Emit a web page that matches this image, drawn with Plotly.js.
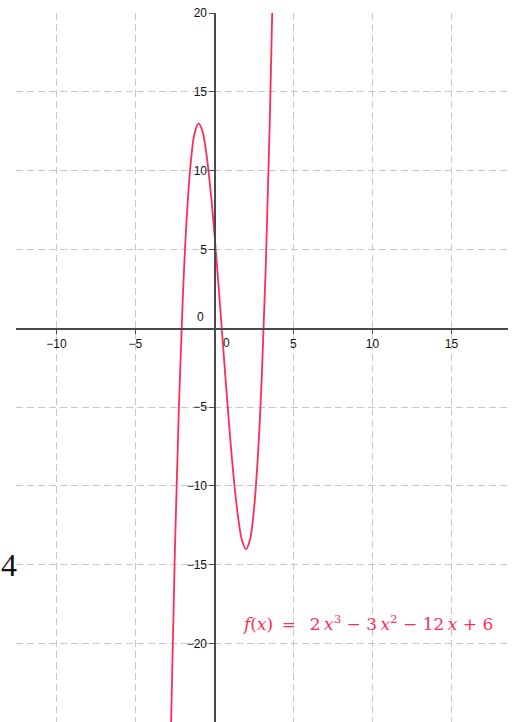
<!DOCTYPE html>
<html>
<head>
<meta charset="utf-8">
<script src="https://cdn.plot.ly/plotly-3.0.1.min.js"></script>
<style>html,body{margin:0;padding:0;background:#fff;}#chart{width:516px;height:722px;}</style>
</head>
<body>
<div id="chart"></div>
<script>
// Points
const curveX = [-2.75, -2.5, -2.25, -2, -1.75, -1.5, -1.25, -1, -0.75, -0.5, -0.25, 0, 0.25, 0.5, 0.75, 1, 1.25, 1.5, 1.75, 2, 2.25, 2.5, 2.75, 3, 3.25, 3.5, 3.75];
const curveY = [-25.3, -14.0, -4.97, 2.0, 7.09, 10.5, 12.41, 13.0, 12.47, 11.0, 8.78, 6.0, 2.84, -0.5, -3.84, -7.0, -9.78, -12.0, -13.47, -14.0, -13.41, -11.5, -8.09, -3.0, 3.97, 13.0, 24.28];
const xTickVals = [-10, -5, 5, 10, 15];
const xTickText = ['\u221210', '\u22125', '5', '10', '15'];
const yTickVals = [-20, -15, -10, -5, 5, 10, 15, 20];
const yTickText = ['\u221220', '\u221215', '\u221210', '\u22125', '5', '10', '15', '20'];
const formulaText = '<i>f</i>(<i>x</i>)\u2002=\u2002 2\u2009<i>x</i><sup>3</sup> \u2212 3\u2009<i>x</i><sup>2</sup> \u2212 12\u2009<i>x</i> + 6';
const strayLabel = '4';

const xRange = [-12.56, 18.58];
const yRange = [-24.97, 20.0];
const axisColor = '#4a4a4a';
const curveColor = '#ff2d55';

const traces = [{
  x: curveX, y: curveY, type: 'scatter', mode: 'lines',
  line: {color: curveColor, width: 1.8, shape: 'spline', smoothing: 1},
  hoverinfo: 'skip', cliponaxis: true
}];

const layout = {
  width: 516, height: 722,
  margin: {l: 16, r: 8, t: 13, b: 0},
  paper_bgcolor: '#ffffff', plot_bgcolor: '#ffffff',
  showlegend: false,
  font: {family: 'Liberation Sans, Arial, sans-serif', size: 12, color: '#111111'},
  xaxis: {
    range: xRange, autorange: false,
    tickvals: xTickVals, ticktext: xTickText,
    showgrid: true, gridcolor: '#c8c8c8', gridwidth: 1, griddash: '7px,4px',
    zeroline: false,
    showline: true, linecolor: axisColor, linewidth: 1.6,
    anchor: 'free', position: (0 - yRange[0]) / (yRange[1] - yRange[0]),
    ticks: 'outside', ticklen: 4, tickcolor: axisColor, tickwidth: 1,
    tickfont: {size: 12, color: '#111111'},
    fixedrange: true
  },
  yaxis: {
    range: yRange, autorange: false,
    tickvals: yTickVals, ticktext: yTickText,
    showgrid: true, gridcolor: '#c8c8c8', gridwidth: 1, griddash: '7px,4px',
    zeroline: false,
    showline: true, linecolor: axisColor, linewidth: 1.6,
    anchor: 'free', position: (0 - xRange[0]) / (xRange[1] - xRange[0]),
    ticks: 'outside', ticklen: 5, tickcolor: axisColor, tickwidth: 1,
    tickfont: {size: 12, color: '#111111'},
    fixedrange: true
  },
  annotations: [
    {x: 0, y: 0, xref: 'x', yref: 'y', text: '0', showarrow: false,
     xanchor: 'right', yanchor: 'bottom', xshift: -8, yshift: 2,
     font: {size: 12, color: '#111111'}},
    {x: 0, y: 0, xref: 'x', yref: 'y', text: '0', showarrow: false,
     xanchor: 'left', yanchor: 'top', xshift: 7, yshift: -6,
     font: {size: 12, color: '#111111'}},
    {x: 1.6, y: -18.7, xref: 'x', yref: 'y', text: formulaText, showarrow: false,
     xanchor: 'left', yanchor: 'middle',
     font: {family: 'DejaVu Serif, Liberation Serif, serif', size: 17, color: curveColor}},
    {x: 0, y: -15, xref: 'paper', yref: 'y', text: strayLabel, showarrow: false,
     xanchor: 'left', yanchor: 'middle', xshift: -17,
     font: {family: 'Liberation Serif, serif', size: 32, color: '#111111'}}
  ]
};

Plotly.newPlot('chart', traces, layout, {displayModeBar: false, staticPlot: true});
</script>
</body>
</html>
